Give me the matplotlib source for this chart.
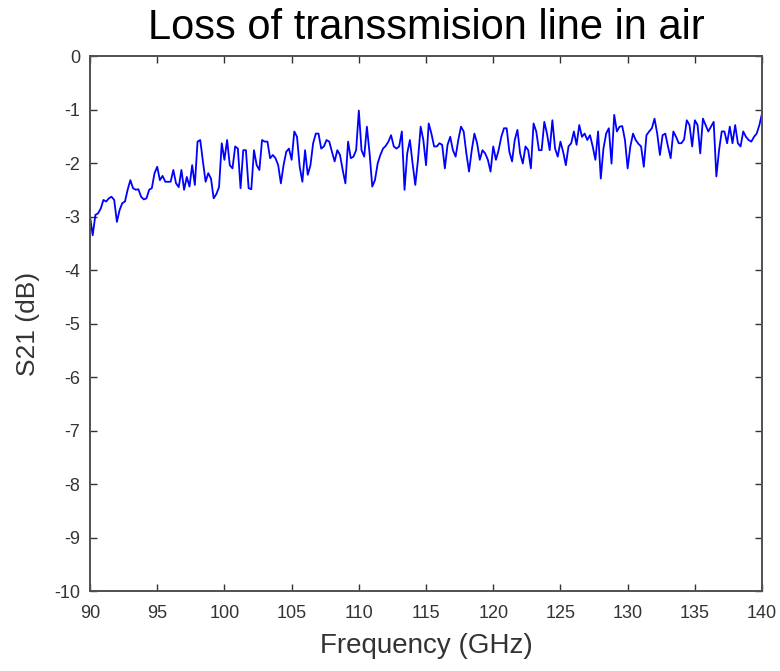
import matplotlib.pyplot as plt
import numpy as np

# measured S21 of the line, 90-140 GHz in 0.2 GHz steps
freq = np.linspace(90, 140, 251)
s21 = [
    -3.00, -3.35, -2.97, -2.94, -2.85, -2.69, -2.72, -2.66, -2.63, -2.69,
    -3.10, -2.88, -2.75, -2.72, -2.50, -2.32, -2.47, -2.50, -2.49, -2.63,
    -2.68, -2.66, -2.50, -2.47, -2.19, -2.07, -2.32, -2.24, -2.35, -2.35,
    -2.35, -2.13, -2.38, -2.45, -2.13, -2.50, -2.26, -2.44, -2.04, -2.41,
    -1.60, -1.57, -1.97, -2.35, -2.19, -2.29, -2.66, -2.58, -2.45, -1.63,
    -1.94, -1.57, -2.04, -2.10, -1.69, -1.73, -2.47, -1.76, -1.76, -2.47,
    -2.49, -1.76, -2.04, -2.13, -1.57, -1.60, -1.60, -1.91, -1.85, -1.91,
    -2.04, -2.38, -2.04, -1.79, -1.73, -1.94, -1.41, -1.51, -2.07, -2.35,
    -1.76, -2.22, -2.04, -1.63, -1.45, -1.45, -1.73, -1.69, -1.57, -1.60,
    -1.79, -1.97, -1.76, -1.85, -2.13, -2.38, -1.60, -1.91, -1.88, -1.76,
    -1.02, -1.76, -1.88, -1.32, -1.82, -2.44, -2.32, -2.01, -1.85, -1.73,
    -1.68, -1.60, -1.48, -1.69, -1.73, -1.69, -1.41, -2.50, -1.82, -1.57,
    -2.01, -2.41, -1.94, -1.32, -1.57, -2.04, -1.26, -1.45, -1.69, -1.69,
    -1.63, -1.66, -2.10, -1.66, -1.51, -1.76, -1.88, -1.57, -1.32, -1.41,
    -1.82, -2.16, -1.76, -1.45, -1.63, -1.94, -1.76, -1.82, -1.94, -2.16,
    -1.69, -1.94, -1.76, -1.51, -1.35, -1.35, -1.79, -1.97, -1.57, -1.38,
    -1.82, -2.01, -1.69, -1.76, -2.10, -1.26, -1.41, -1.76, -1.76, -1.23,
    -1.45, -1.76, -1.20, -1.73, -1.88, -1.60, -1.79, -2.04, -1.69, -1.63,
    -1.41, -1.66, -1.29, -1.51, -1.45, -1.57, -1.48, -1.69, -1.94, -1.41,
    -2.29, -1.73, -1.45, -1.35, -2.01, -1.10, -1.41, -1.32, -1.31, -1.57,
    -2.10, -1.69, -1.45, -1.57, -1.64, -1.69, -2.07, -1.48, -1.41, -1.35,
    -1.17, -1.45, -1.85, -1.48, -1.45, -1.69, -1.91, -1.41, -1.51, -1.63,
    -1.63, -1.56, -1.20, -1.29, -1.69, -1.20, -1.29, -1.82, -1.17, -1.29,
    -1.41, -1.32, -1.23, -2.25, -1.76, -1.41, -1.41, -1.63, -1.32, -1.63,
    -1.29, -1.63, -1.69, -1.41, -1.51, -1.57, -1.60, -1.51, -1.45, -1.29,
    -1.07,
]

xticks = [90, 95, 100, 105, 110, 115, 120, 125, 130, 135, 140]
yticks = [0, -1, -2, -3, -4, -5, -6, -7, -8, -9, -10]

plt.rcParams['font.family'] = ['Liberation Sans', 'DejaVu Sans']
plt.rcParams['axes.unicode_minus'] = False

fig = plt.figure(figsize=(7.8, 6.71), dpi=100)
ax = fig.add_axes([0.1154, 0.1192, 0.8616, 0.7973])

ax.plot(freq, s21, color='#0000ff', linewidth=1.3)

ax.set_xlim(90, 140)
ax.set_ylim(-10, 0)
ax.set_xticks(xticks)
ax.set_yticks(yticks)
ax.tick_params(direction='in', top=True, right=True, length=5,
               labelsize=13, colors='#333333', width=1)
ax.tick_params(axis='x', pad=10)
ax.tick_params(axis='y', pad=7)
for sp in ax.spines.values():
    sp.set_color('#505050')
    sp.set_linewidth(1.4)

ax.set_title('Loss of transsmision line in air', fontsize=30, pad=12)
ax.set_xlabel('Frequency (GHz)', fontsize=20, color='#333333', labelpad=8)
ax.set_ylabel('S21 (dB)', fontsize=19, color='#333333', labelpad=10)

fig.savefig('out.png', dpi=100)
